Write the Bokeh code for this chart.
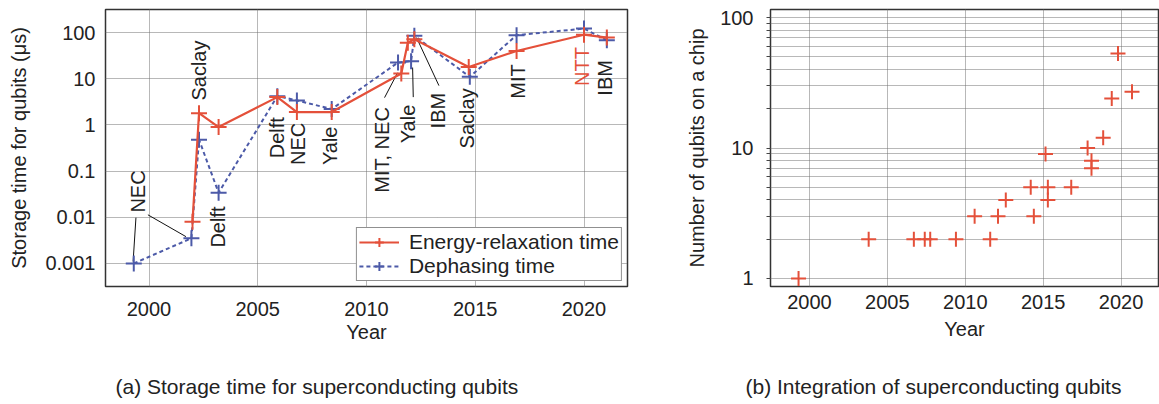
import math
from bokeh.plotting import figure
from bokeh.layouts import row, column
from bokeh.models import Range1d, FixedTicker
from bokeh.core.properties import value
from bokeh.embed import file_html
from bokeh.resources import INLINE

# ---------------- data: panel (a) ----------------
t1_year = [2002.0, 2002.3, 2003.2, 2005.9, 2006.8, 2008.4, 2011.6, 2011.9, 2012.2,
           2014.7, 2016.9, 2020.0, 2021.05]
t1_us = [0.008, 1.8, 0.9, 4.0, 1.9, 1.9, 13, 60, 72, 18, 40, 90, 78]

t2_year = [1999.3, 2001.95, 2002.3, 2003.2, 2005.9, 2006.8, 2008.4, 2011.45, 2012.05,
           2012.2, 2014.75, 2016.9, 2020.0, 2021.05]
t2_us = [0.001, 0.0035, 0.48, 0.034, 4.2, 3.4, 2.2, 22.5, 24, 85, 11, 88, 122, 68]

lab_text = ["NEC", "Saclay", "Delft", "Delft", "NEC", "Yale", "MIT, NEC", "Yale", "IBM",
            "Saclay", "MIT", "NTT", "IBM"]
lab_year = [1999.49, 2002.30, 2003.15, 2005.9, 2006.85, 2008.3, 2010.69, 2011.92, 2013.27,
            2014.6, 2016.96, 2019.9, 2020.95]
lab_us = [0.0126, 3.37, 0.0022, 0.19, 0.135, 0.135, 0.034, 0.40, 0.84, 0.31, 3.7, 7.0, 4.3]
lab_red = [False, False, False, False, False, False, False, False, False,
           False, False, True, False]

lead_x0 = [1999.40, 1999.95, 2010.83, 2012.15, 2013.33]
lead_y0 = [0.0098, 0.0113, 3.9, 4.0, 7.1]
lead_x1 = [1999.27, 2001.7, 2011.43, 2012.12, 2012.3]
lead_y1 = [0.0011, 0.0038, 13.5, 17.5, 78]

y_ticks_a = [0.001, 0.01, 0.1, 1, 10, 100]
y_labels_a = ["0.001", "0.01", "0.1", "1", "10", "100"]
x_ticks = [2000, 2005, 2010, 2015, 2020]

# ---------------- data: panel (b) ----------------
n_year = [1999.3, 2003.8, 2006.7, 2007.4, 2007.75, 2009.4, 2010.6, 2011.6, 2012.1, 2012.6,
          2014.2, 2014.4, 2015.15, 2015.3, 2015.3, 2016.8, 2017.85, 2018.1, 2018.1,
          2018.85, 2019.4, 2019.8, 2020.7]
n_qubits = [1, 2, 2, 2, 2, 2, 3, 2, 3, 4, 5, 3, 9, 5, 4, 5, 10, 8, 7, 12, 24, 53, 27]

y_ticks_b = [1, 10, 100]
y_labels_b = ["1", "10", "100"]
y_minor_b = [2, 3, 4, 5, 6, 7, 8, 9, 20, 30, 40, 50, 60, 70, 80, 90]

captions = ["(a) Storage time for superconducting qubits",
            "(b) Integration of superconducting qubits"]

# ---------------- styles ----------------
RED = "#e4503a"
BLUE = "#4c5aa8"
TXT = "#222222"
FONT = "Liberation Sans"
GRID = "#707070"


def style(p):
    p.outline_line_color = "#333333"
    p.outline_line_width = 1.5
    for ax in (p.xaxis[0], p.yaxis[0]):
        ax.axis_line_color = None
        ax.major_label_text_font = FONT
        ax.major_label_text_font_size = "20px"
        ax.major_label_text_color = TXT
        ax.axis_label_text_font = FONT
        ax.axis_label_text_font_size = "20px"
        ax.axis_label_text_font_style = "normal"
        ax.axis_label_text_color = TXT
        ax.major_tick_in = 0
        ax.major_tick_out = 0
        ax.minor_tick_in = 0
        ax.minor_tick_out = 0
    p.grid.grid_line_color = GRID
    p.grid.grid_line_dash = "1 1"
    p.grid.grid_line_width = 1
    p.background_fill_color = "white"
    p.border_fill_color = "white"


# ---------------- panel (a) ----------------
p1 = figure(width=680, height=360, x_range=Range1d(1998, 2022),
            y_range=Range1d(10 ** -3.5, 10 ** 2.5), y_axis_type="log",
            output_backend="svg", toolbar_location=None,
            min_border_left=105, min_border_right=53, min_border_top=9,
            min_border_bottom=73)
style(p1)
tk1 = FixedTicker(ticks=y_ticks_a, minor_ticks=[])
p1.yaxis.ticker = tk1
p1.ygrid.ticker = tk1
p1.yaxis.major_label_overrides = {v: s for v, s in zip(y_ticks_a, y_labels_a)}
tkx1 = FixedTicker(ticks=x_ticks, minor_ticks=[])
p1.xaxis.ticker = tkx1
p1.xgrid.ticker = tkx1
p1.xaxis.axis_label = "Year"
p1.yaxis.axis_label = "Storage time for qubits (μs)"
p1.xaxis.major_label_standoff = 15
p1.xaxis.axis_label_standoff = 2
p1.yaxis.major_label_standoff = 10
p1.yaxis.axis_label_standoff = 12

p1.segment(x0=lead_x0, y0=lead_y0, x1=lead_x1, y1=lead_y1, line_color="#111111", line_width=1)

p1.line(t2_year, t2_us, line_color=BLUE, line_width=2, line_dash="4 3",
        legend_label="Dephasing time")
p1.scatter(t2_year, t2_us, marker="cross", size=16, line_color=BLUE, line_width=2,
           legend_label="Dephasing time")
p1.line(t1_year, t1_us, line_color=RED, line_width=2.2, legend_label="Energy-relaxation time")
p1.scatter(t1_year, t1_us, marker="cross", size=16, line_color=RED, line_width=2,
           legend_label="Energy-relaxation time")

p1.text(x=lab_year, y=lab_us, text=lab_text, angle=math.pi / 2,
        text_align="left", text_baseline="middle",
        text_font=value(FONT), text_font_size="20px",
        text_color=[RED if r else TXT for r in lab_red])

lg = p1.legend[0]
lg.items = [lg.items[1], lg.items[0]]
lg.location = "bottom_right"
lg.margin = 5
lg.padding = 2
lg.spacing = 0
lg.glyph_width = 40
lg.glyph_height = 22
lg.label_height = 22
lg.label_standoff = 10
lg.label_text_font = FONT
lg.label_text_font_size = "21px"
lg.label_text_color = TXT
lg.border_line_color = "#222222"
lg.border_line_width = 1.2
lg.background_fill_alpha = 1

# ---------------- panel (b) ----------------
p2 = figure(width=479, height=360, x_range=Range1d(1997.5, 2022.4),
            y_range=Range1d(10 ** -0.062, 10 ** 2.062), y_axis_type="log",
            output_backend="svg", toolbar_location=None,
            min_border_left=90, min_border_right=1, min_border_top=9,
            min_border_bottom=74)
style(p2)
tk2 = FixedTicker(ticks=y_ticks_b, minor_ticks=y_minor_b)
p2.yaxis.ticker = tk2
p2.ygrid.ticker = tk2
p2.yaxis.major_label_overrides = {v: s for v, s in zip(y_ticks_b, y_labels_b)}
p2.ygrid.minor_grid_line_color = GRID
p2.ygrid.minor_grid_line_dash = "1 1"
p2.yaxis.major_tick_out = 4
p2.yaxis.minor_tick_out = 4
p2.yaxis.major_tick_line_color = "#444444"
p2.yaxis.minor_tick_line_color = "#444444"
tkx2 = FixedTicker(ticks=x_ticks, minor_ticks=[])
p2.xaxis.ticker = tkx2
p2.xgrid.ticker = tkx2
p2.xaxis.axis_label = "Year"
p2.yaxis.axis_label = "Number of qubits on a chip"
p2.xaxis.major_label_standoff = 8
p2.xaxis.axis_label_standoff = 6
p2.yaxis.major_label_standoff = 13
p2.yaxis.axis_label_standoff = 9

p2.scatter(n_year, n_qubits, marker="cross", size=15, line_color=RED, line_width=2)

# ---------------- captions strip ----------------
cap = figure(width=1159, height=44, x_range=Range1d(0, 1159), y_range=Range1d(0, 44),
             x_axis_location=None, y_axis_location=None, output_backend="svg",
             toolbar_location=None, min_border=0)
cap.outline_line_color = None
cap.grid.visible = False
cap.text(x=[115, 745], y=[18, 18], text=captions, text_align="left",
         text_baseline="middle", text_font=value(FONT), text_font_size="21px",
         text_color=TXT)

layout = column(row(p1, p2), cap)
open("out.html", "w").write(file_html(layout, INLINE))
